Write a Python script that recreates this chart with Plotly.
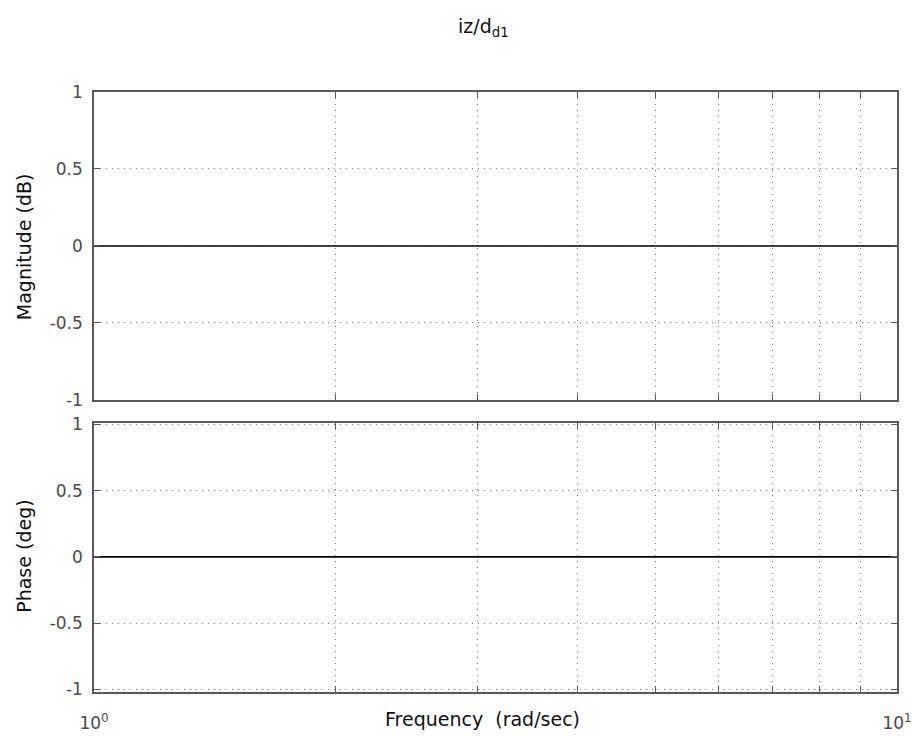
import plotly.graph_objects as go

# Frequency response samples (rad/sec) and the response of iz/d_d1
freq_rad_s = [1, 1.5, 2, 3, 4, 5, 6, 7, 8, 9, 10]
magnitude_db = [0, 0, 0, 0, 0, 0, 0, 0, 0, 0, 0]
phase_deg = [0, 0, 0, 0, 0, 0, 0, 0, 0, 0, 0]

x_tick_vals = [1, 2, 3, 4, 5, 6, 7, 8, 9, 10]
x_tick_text = ["10<sup>0</sup>", "", "", "", "", "", "", "", "", "10<sup>1</sup>"]
y_tick_vals = [-1, -0.5, 0, 0.5, 1]
y_tick_text = ["-1", "-0.5", "0", "0.5", "1"]

FONT = "DejaVu Sans, Liberation Sans, sans-serif"
AX = "#5a5a5a"
GRID = "#707070"
TICK_FONT = dict(family=FONT, size=17, color="#4a4a4a")
LABEL_FONT = dict(family=FONT, size=19, color="#111111")

fig = go.Figure()
fig.add_trace(go.Scatter(x=freq_rad_s, y=magnitude_db, mode="lines",
                         line=dict(color="black", width=1.6),
                         xaxis="x", yaxis="y", showlegend=False))
fig.add_trace(go.Scatter(x=freq_rad_s, y=phase_deg, mode="lines",
                         line=dict(color="black", width=1.6),
                         xaxis="x2", yaxis="y2", showlegend=False))

common_x = dict(type="log", range=[0, 1], tickvals=x_tick_vals,
                showline=True, linecolor=AX, linewidth=1.5, mirror="ticks",
                ticks="inside", ticklen=6, tickcolor=AX, tickwidth=1.2,
                showgrid=True, gridcolor=GRID, griddash="1px,5px", gridwidth=1,
                zeroline=False, tickfont=TICK_FONT, automargin=False)
common_y = dict(tickvals=y_tick_vals, ticktext=y_tick_text,
                showline=True, linecolor=AX, linewidth=1.5, mirror="ticks",
                ticks="inside", ticklen=6, tickcolor=AX, tickwidth=1.2,
                showgrid=True, gridcolor=GRID, griddash="1px,5px", gridwidth=1,
                zeroline=False, tickfont=TICK_FONT, ticklabelstandoff=6,
                automargin=False)

fig.update_layout(
    width=915, height=736,
    margin=dict(l=94, r=18, t=92, b=44),
    paper_bgcolor="white", plot_bgcolor="white",
    font=dict(family=FONT, size=17, color="black"),
    xaxis=dict(common_x, domain=[0, 1], anchor="y", showticklabels=False),
    yaxis=dict(common_y, domain=[0.4867, 1], range=[-1, 1], anchor="x"),
    xaxis2=dict(common_x, domain=[0, 1], anchor="y2", ticktext=x_tick_text,
                matches="x", ticklabelstandoff=15),
    yaxis2=dict(common_y, domain=[0, 0.4483], range=[-1.02, 1.01], anchor="x2"),
    annotations=[
        dict(text="iz/d<sub>d1</sub>", x=0.485, y=1.108, xref="paper", yref="paper",
             showarrow=False, xanchor="center", yanchor="middle", font=LABEL_FONT),
        dict(text="Frequency\u00a0\u00a0(rad/sec)", x=0.4835, y=-0.045,
             xref="paper", yref="paper", showarrow=False,
             xanchor="center", yanchor="middle", font=LABEL_FONT),
        dict(text="Magnitude (dB)", x=-0.0872, y=0.743, xref="paper", yref="paper",
             showarrow=False, textangle=-90, xanchor="center", yanchor="middle",
             font=LABEL_FONT),
        dict(text="Phase (deg)", x=-0.0872, y=0.227, xref="paper", yref="paper",
             showarrow=False, textangle=-90, xanchor="center", yanchor="middle",
             font=LABEL_FONT),
    ],
)

fig.write_html("out.html")
